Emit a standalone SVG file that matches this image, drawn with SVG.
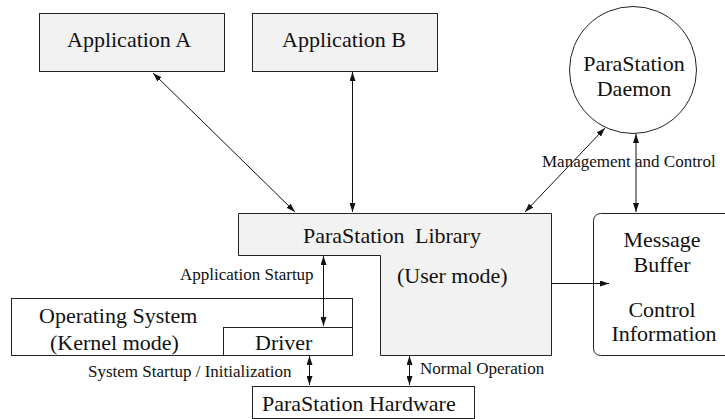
<svg xmlns="http://www.w3.org/2000/svg" width="725" height="419" viewBox="0 0 725 419">
<style>
.box{fill:#f2f2f2;stroke:#222;stroke-width:1}
.wbox{fill:#ffffff;stroke:#222;stroke-width:1}
text{font-family:'Liberation Serif','Times New Roman','DejaVu Serif',serif;fill:#111}
.big{font-size:22px}
.small{font-size:17px}
.mid{text-anchor:middle}
.conn line{stroke:#111;stroke-width:1;fill:none}
</style>
<defs>
<marker id="ah" markerUnits="userSpaceOnUse" markerWidth="10" markerHeight="6" refX="9" refY="3" orient="auto-start-reverse">
<path d="M0,0 L9,3 L0,6 Z" fill="#111"/>
</marker>
</defs>
<rect width="725" height="419" fill="#ffffff"/>
<g font-family="Liberation Serif, Times New Roman, DejaVu Serif, serif">
<g id="appA">
<rect class="box" x="39.5" y="13.5" width="185" height="58"/>
<text class="big" x="67" y="47">Application A</text>
</g>
<g id="appB">
<rect class="box" x="252.5" y="13.5" width="185" height="58"/>
<text class="big" x="282" y="47">Application B</text>
</g>
<g id="daemon">
<circle class="wbox" cx="633" cy="70" r="63.5"/>
<text class="big mid" x="634" y="71">ParaStation</text>
<text class="big mid" x="634" y="96">Daemon</text>
</g>
<g id="library">
<polygon class="box" points="238.5,213.5 551.5,213.5 551.5,355.5 380.5,355.5 380.5,255.5 238.5,255.5"/>
<text class="big" x="303" y="243">ParaStation <tspan dx="5">Library</tspan></text>
<text class="big" x="397" y="283">(User mode)</text>
</g>
<g id="buffer">
<rect class="wbox" x="593.5" y="213.5" width="150" height="142" rx="7"/>
<text class="big mid" x="662" y="247">Message</text>
<text class="big mid" x="662" y="272">Buffer</text>
<text class="big mid" x="662" y="317">Control</text>
<text class="big mid" x="664" y="341">Information</text>
</g>
<g id="os">
<rect class="wbox" x="11.5" y="298.5" width="341" height="57"/>
<text class="big" x="39" y="323">Operating System</text>
<text class="big" x="50" y="350">(Kernel mode)</text>
</g>
<g id="driver">
<rect class="wbox" x="223.5" y="327.5" width="129" height="28"/>
<text class="big" x="255" y="350">Driver</text>
</g>
<g id="hardware">
<rect class="wbox" x="252.5" y="386.5" width="222" height="32"/>
<text class="big" x="262" y="411">ParaStation Hardware</text>
</g>
<g id="connectors" class="conn">
<line x1="295" y1="212" x2="153" y2="73" marker-start="url(#ah)" marker-end="url(#ah)"/>
<line x1="352.5" y1="212" x2="352.5" y2="72" marker-start="url(#ah)" marker-end="url(#ah)"/>
<line x1="525" y1="212" x2="605" y2="128" marker-start="url(#ah)" marker-end="url(#ah)"/>
<line x1="636" y1="212" x2="636" y2="134" marker-start="url(#ah)" marker-end="url(#ah)"/>
<line x1="551.5" y1="283.5" x2="609" y2="283.5" marker-end="url(#ah)"/>
<line x1="323.5" y1="256" x2="323.5" y2="326" marker-start="url(#ah)" marker-end="url(#ah)"/>
<line x1="309.5" y1="356" x2="309.5" y2="385" marker-start="url(#ah)" marker-end="url(#ah)"/>
<line x1="409.5" y1="356" x2="409.5" y2="385" marker-start="url(#ah)" marker-end="url(#ah)"/>
</g>
<g id="labels">
<text class="small" x="542" y="167">Management and Control</text>
<text class="small" x="180" y="280">Application Startup</text>
<text class="small" x="88" y="377">System Startup / Initialization</text>
<text class="small" x="420" y="374">Normal Operation</text>
</g>
</g>
</svg>
